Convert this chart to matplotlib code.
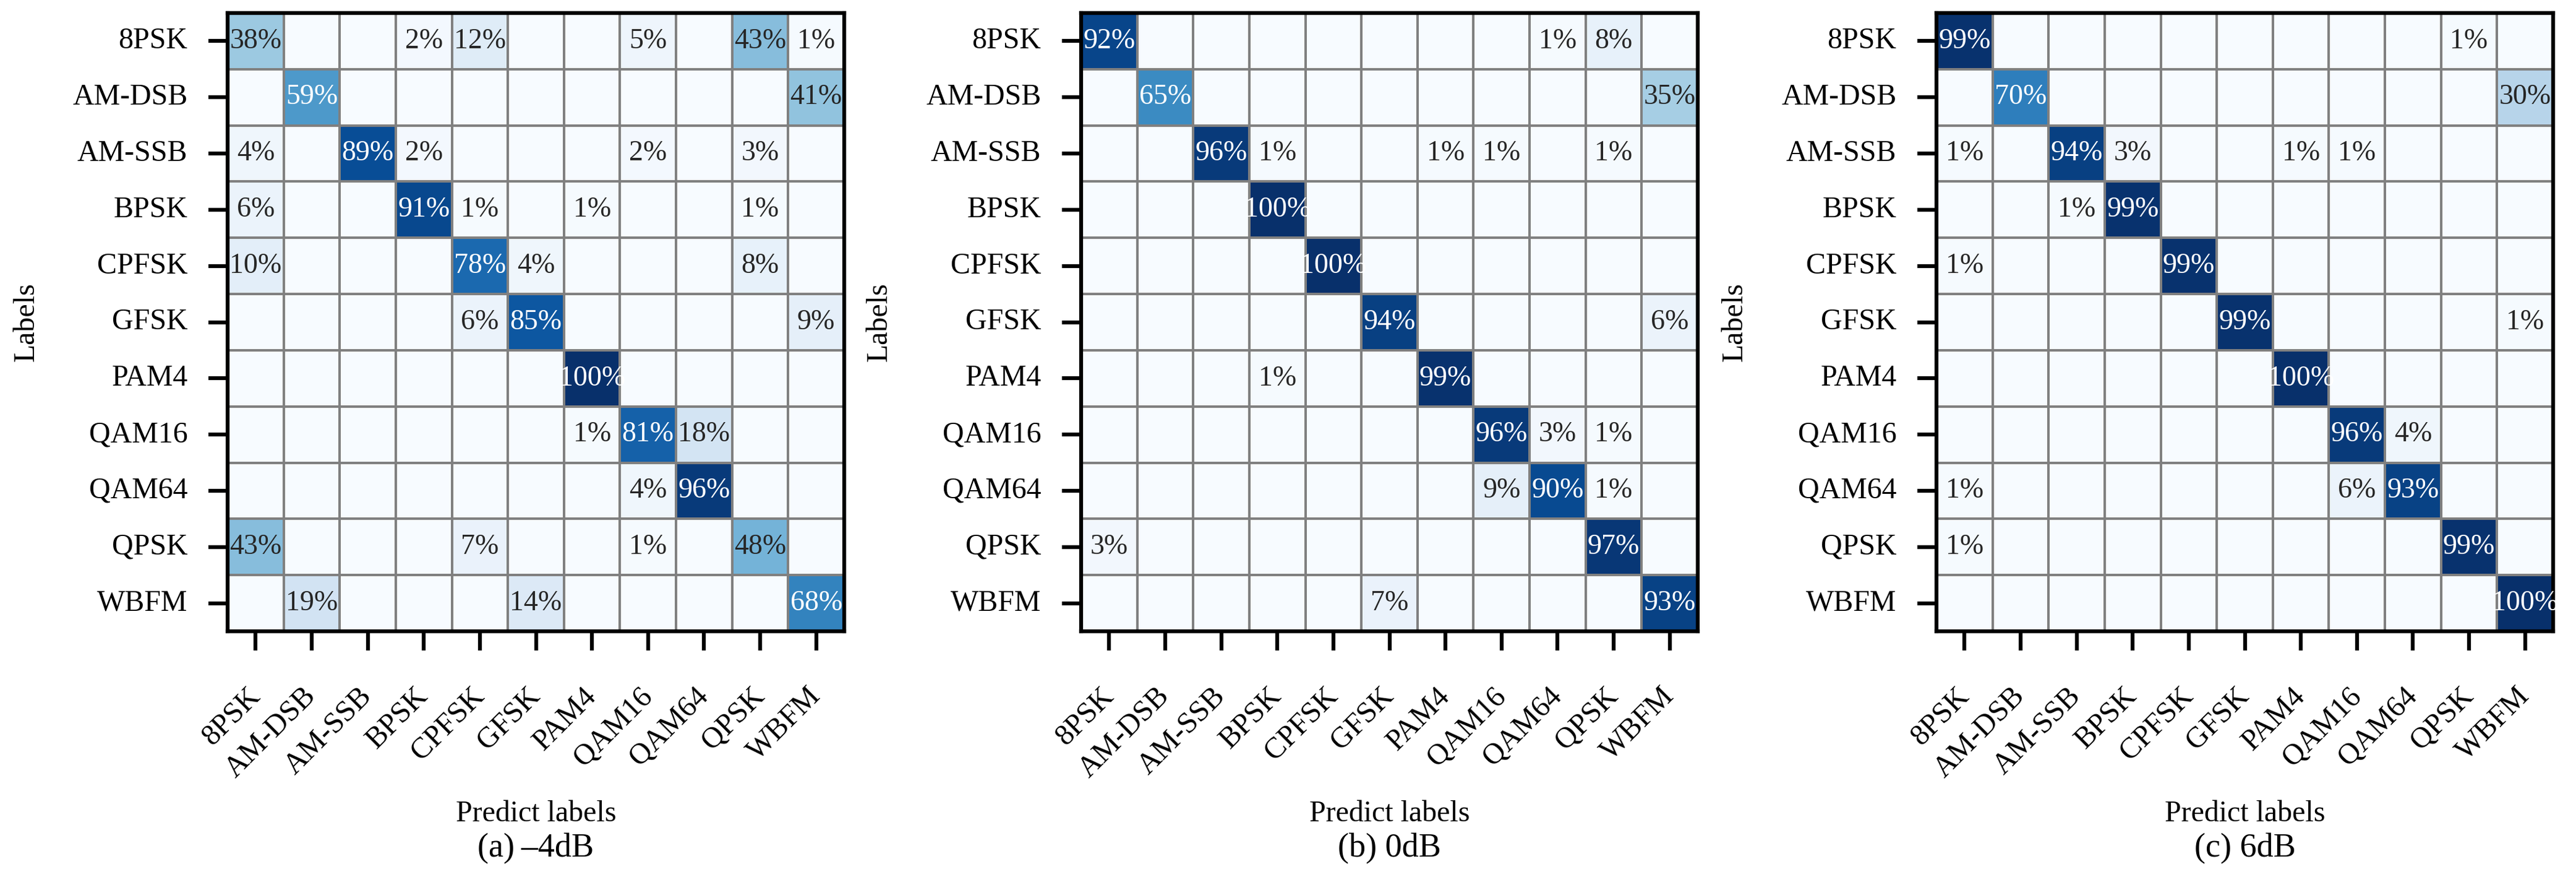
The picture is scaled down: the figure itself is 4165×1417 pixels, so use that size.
import numpy as np
import matplotlib
matplotlib.use("Agg")
import matplotlib.pyplot as plt
import seaborn as sns

plt.rcParams['font.family'] = ['Liberation Serif', 'DejaVu Serif']

classes = ["8PSK", "AM-DSB", "AM-SSB", "BPSK", "CPFSK", "GFSK",
           "PAM4", "QAM16", "QAM64", "QPSK", "WBFM"]

# rows = true label, cols = predicted label, values in percent
cm_m4db = [
    [38, 0, 0, 2, 12, 0, 0, 5, 0, 43, 1],
    [0, 59, 0, 0, 0, 0, 0, 0, 0, 0, 41],
    [4, 0, 89, 2, 0, 0, 0, 2, 0, 3, 0],
    [6, 0, 0, 91, 1, 0, 1, 0, 0, 1, 0],
    [10, 0, 0, 0, 78, 4, 0, 0, 0, 8, 0],
    [0, 0, 0, 0, 6, 85, 0, 0, 0, 0, 9],
    [0, 0, 0, 0, 0, 0, 100, 0, 0, 0, 0],
    [0, 0, 0, 0, 0, 0, 1, 81, 18, 0, 0],
    [0, 0, 0, 0, 0, 0, 0, 4, 96, 0, 0],
    [43, 0, 0, 0, 7, 0, 0, 1, 0, 48, 0],
    [0, 19, 0, 0, 0, 14, 0, 0, 0, 0, 68],
]
cm_0db = [
    [92, 0, 0, 0, 0, 0, 0, 0, 1, 8, 0],
    [0, 65, 0, 0, 0, 0, 0, 0, 0, 0, 35],
    [0, 0, 96, 1, 0, 0, 1, 1, 0, 1, 0],
    [0, 0, 0, 100, 0, 0, 0, 0, 0, 0, 0],
    [0, 0, 0, 0, 100, 0, 0, 0, 0, 0, 0],
    [0, 0, 0, 0, 0, 94, 0, 0, 0, 0, 6],
    [0, 0, 0, 1, 0, 0, 99, 0, 0, 0, 0],
    [0, 0, 0, 0, 0, 0, 0, 96, 3, 1, 0],
    [0, 0, 0, 0, 0, 0, 0, 9, 90, 1, 0],
    [3, 0, 0, 0, 0, 0, 0, 0, 0, 97, 0],
    [0, 0, 0, 0, 0, 7, 0, 0, 0, 0, 93],
]
cm_6db = [
    [99, 0, 0, 0, 0, 0, 0, 0, 0, 1, 0],
    [0, 70, 0, 0, 0, 0, 0, 0, 0, 0, 30],
    [1, 0, 94, 3, 0, 0, 1, 1, 0, 0, 0],
    [0, 0, 1, 99, 0, 0, 0, 0, 0, 0, 0],
    [1, 0, 0, 0, 99, 0, 0, 0, 0, 0, 0],
    [0, 0, 0, 0, 0, 99, 0, 0, 0, 0, 1],
    [0, 0, 0, 0, 0, 0, 100, 0, 0, 0, 0],
    [0, 0, 0, 0, 0, 0, 0, 96, 4, 0, 0],
    [1, 0, 0, 0, 0, 0, 0, 6, 93, 0, 0],
    [1, 0, 0, 0, 0, 0, 0, 0, 0, 99, 0],
    [0, 0, 0, 0, 0, 0, 0, 0, 0, 0, 100],
]
captions = ["(a)\u2009\u20134dB", "(b) 0dB", "(c) 6dB"]

W, H = 4165, 1417
fig = plt.figure(figsize=(W / 300, H / 300), dpi=300)

lefts = [368, 1748, 3131]
ylab_x = [43, 1422, 2805]
ax_w, ax_top, ax_bot = 997, 21, 1020

for left, yx, cm, cap in zip(lefts, ylab_x, [cm_m4db, cm_0db, cm_6db], captions):
    ax = fig.add_axes([left / W, 1 - ax_bot / H, ax_w / W, (ax_bot - ax_top) / H])
    data = np.array(cm) / 100.0
    annot = np.array([[f"{v}%" if v > 0 else "" for v in row] for row in cm])
    sns.heatmap(data, ax=ax, cmap="Blues", vmin=0, vmax=1, cbar=False,
                annot=annot, fmt="", annot_kws={"fontsize": 11},
                linewidths=0.5, linecolor="gray",
                xticklabels=classes, yticklabels=classes)
    for s in ax.spines.values():
        s.set_visible(True)
        s.set_linewidth(1.5)
        s.set_color("black")
    ax.tick_params(axis="both", length=7.5, width=1.5, labelsize=11.5)
    ax.tick_params(axis="y", pad=8)
    ax.tick_params(axis="x", pad=16)
    plt.setp(ax.get_yticklabels(), rotation=0)
    plt.setp(ax.get_xticklabels(), rotation=45, ha="right", va="center",
             rotation_mode="anchor")
    ax.set_xlabel("Predict labels", fontsize=11.5)
    ax.xaxis.set_label_coords(0.5, (ax_bot - 1315) / (ax_bot - ax_top))
    ax.xaxis.label.set_va("center")
    ax.set_ylabel("Labels", fontsize=11.5)
    ax.yaxis.set_label_coords((yx - left) / ax_w, 0.5)
    ax.yaxis.label.set_va("center")
    fig.text((left + ax_w / 2) / W, 1 - 1371 / H, cap, fontsize=13,
             ha="center", va="center")

fig.savefig("out.png", dpi=300)
